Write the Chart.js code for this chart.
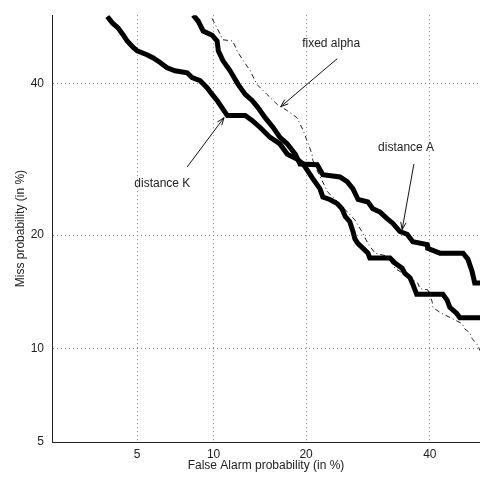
<!DOCTYPE html>
<html>
<head>
<meta charset="utf-8">
<script src="https://cdn.jsdelivr.net/npm/chart.js@4/dist/chart.umd.min.js"></script>
<style>
  html, body { margin: 0; padding: 0; background: #fff; }
  #wrap { width: 480px; height: 477px; position: relative; }
</style>
</head>
<body>
<div id="wrap"><canvas id="det"></canvas></div>
<script>
// tick values (in %) on the normal-deviate axes
const xTicks = [5, 10, 20, 40];
const yTicks = [5, 10, 20, 40];

// distance K : false alarm (%) / miss (%)
const kFa = [3.7, 3.9, 4.14, 4.36, 4.53, 4.81, 5.0, 5.5, 5.84, 6.23, 6.65, 7.15, 7.97, 8.33, 8.92, 9.47, 9.88, 10.3, 10.7, 11.2,
  12.9, 13.6, 14.45, 15.56, 16.7, 17.6, 18.8, 19.6, 20.3, 20.9, 21.9, 22.3, 23.3, 24.4, 25.1, 25.6, 26.3, 26.8, 27.1, 27.6,
  28.4, 29.2, 29.5, 32.9, 33.75, 35.0, 35.5, 36.4, 36.9, 37.6, 42.4, 43.2, 43.7, 45.0, 45.6, 49.4];
const kMiss = [50.3, 49.3, 48.5, 47.4, 46.5, 45.5, 45.0, 44.4, 43.9, 43.2, 42.4, 41.95, 41.65, 40.9, 40.45, 39.4, 38.4, 37.5, 36.5, 35.3,
  35.3, 34.6, 33.6, 32.2, 31.3, 29.9, 29.25, 28.6, 27.55, 26.7, 25.4, 24.4, 24.1, 23.6, 23.0, 22.1, 21.5, 20.4, 19.6, 19.1,
  18.6, 18.1, 17.6, 17.6, 17.1, 16.6, 16.1, 15.7, 15.1, 14.2, 14.2, 13.7, 13.1, 12.6, 12.25, 12.25];

// distance A
const aFa = [8.4, 8.77, 9.16, 9.88, 10.3, 10.4, 10.8, 11.45, 12.2, 12.9, 13.6, 14.2, 15.0, 15.9, 16.7, 17.6, 18.6, 19.2, 21.5, 22.3,
  24.8, 25.9, 26.8, 27.6, 29.2, 30.0, 31.2, 32.4, 33.4, 34.6, 35.9, 36.9, 39.5, 39.6, 41.85, 46.2, 47.1, 47.9, 48.4, 49.4];
const aMiss = [50.5, 49.6, 48.05, 47.4, 46.5, 45.0, 43.5, 41.95, 39.9, 38.4, 37.5, 36.5, 35.0, 33.6, 32.2, 31.3, 29.9, 28.6, 28.5, 27.2,
  26.9, 26.3, 25.4, 24.1, 23.8, 23.0, 22.6, 21.85, 21.3, 20.4, 20.1, 19.3, 19.0, 18.6, 18.1, 18.1, 17.5, 16.3, 15.2, 15.2];

// fixed alpha
const alFa = [9.88, 10.3, 10.8, 11.7, 12.1, 12.7, 13.4, 14.1, 15.2, 16.4, 17.6, 18.8, 19.6, 20.1, 20.8, 20.9, 21.6, 23.0, 24.5, 27.1,
  28.2, 29.2, 30.35, 32.4, 33.75, 37.8, 38.2, 39.6, 40.4, 40.6, 42.2, 44.1, 46.0, 46.5, 47.5, 47.9, 49.0, 49.4];
const alMiss = [50.0, 48.5, 46.7, 46.5, 45.0, 43.5, 41.95, 39.9, 38.4, 36.9, 36.0, 35.0, 33.2, 31.8, 29.9, 29.1, 27.55, 25.0, 23.8, 21.7,
  20.4, 19.1, 18.1, 17.8, 16.6, 15.2, 14.7, 14.6, 13.6, 13.05, 12.6, 12.2, 11.8, 11.4, 11.1, 10.7, 10.2, 9.85];

// annotations: label position, arrow tail, arrow tip (all in %)
const labels = [
  { text: 'fixed alpha', at: [23.5, 46.1], from: [24.4, 43.8], to: [16.8, 36.6] },
  { text: 'distance A', at: [35.7, 30.85], from: [37.1, 28.6], to: [35.0, 20.6] },
  { text: 'distance K', at: [6.36, 26.0], from: [7.97, 28.2], to: [10.9, 35.0] }
];

// inverse normal cdf (Acklam)
function probit(p) {
  const a = [-39.69683028665376, 220.9460984245205, -275.9285104469687, 138.357751867269, -30.66479806614716, 2.506628277459239];
  const b = [-54.47609879822406, 161.5858368580409, -155.6989798598866, 66.80131188771972, -13.28068155288572];
  const c = [-0.007784894002430293, -0.3223964580411365, -2.400758277161838, -2.549732539343734, 4.374664141464968, 2.938163982698783];
  const d = [0.007784695709041462, 0.3224671290700398, 2.445134137142996, 3.754408661907416];
  const pl = 0.02425;
  let q, r;
  if (p < pl) {
    q = Math.sqrt(-2 * Math.log(p));
    return (((((c[0]*q+c[1])*q+c[2])*q+c[3])*q+c[4])*q+c[5]) / ((((d[0]*q+d[1])*q+d[2])*q+d[3])*q+1);
  }
  if (p > 1 - pl) {
    q = Math.sqrt(-2 * Math.log(1 - p));
    return -(((((c[0]*q+c[1])*q+c[2])*q+c[3])*q+c[4])*q+c[5]) / ((((d[0]*q+d[1])*q+d[2])*q+d[3])*q+1);
  }
  q = p - 0.5; r = q * q;
  return (((((a[0]*r+a[1])*r+a[2])*r+a[3])*r+a[4])*r+a[5])*q / (((((b[0]*r+b[1])*r+b[2])*r+b[3])*r+b[4])*r+1);
}
function ncdf(z) {
  // bisection is plenty for pixel -> value
  let lo = 1e-6, hi = 1 - 1e-6;
  for (let i = 0; i < 60; i++) {
    const m = (lo + hi) / 2;
    if (probit(m) < z) lo = m; else hi = m;
  }
  return (lo + hi) / 2;
}

// normal deviate scale, values in percent
class ProbitScale extends Chart.LinearScale {
  buildTicks() { return []; }
  getPixelForValue(value) {
    const lo = probit(this.min / 100), hi = probit(this.max / 100);
    return this.getPixelForDecimal((probit(value / 100) - lo) / (hi - lo));
  }
  getValueForPixel(pixel) {
    const lo = probit(this.min / 100), hi = probit(this.max / 100);
    return ncdf(lo + this.getDecimalForPixel(pixel) * (hi - lo)) * 100;
  }
}
ProbitScale.id = 'probit';
ProbitScale.defaults = Chart.LinearScale.defaults;
Chart.register(ProbitScale);

function pts(xs, ys) {
  return xs.map((x, i) => ({ x: x, y: ys[i] }));
}

const annotate = {
  id: 'annotate',
  afterDatasetsDraw(chart) {
    const ctx = chart.ctx;
    const xs = chart.scales.x, ys = chart.scales.y;
    ctx.save();
    ctx.fillStyle = '#222';
    ctx.strokeStyle = '#111';
    ctx.lineWidth = 1;
    ctx.font = '12px "Liberation Sans", Arial, sans-serif';
    ctx.textAlign = 'center';
    ctx.textBaseline = 'middle';
    labels.forEach(l => {
      ctx.fillText(l.text, xs.getPixelForValue(l.at[0]), ys.getPixelForValue(l.at[1]));
      const x0 = xs.getPixelForValue(l.from[0]), y0 = ys.getPixelForValue(l.from[1]);
      const x1 = xs.getPixelForValue(l.to[0]), y1 = ys.getPixelForValue(l.to[1]);
      ctx.beginPath();
      ctx.moveTo(x0, y0);
      ctx.lineTo(x1, y1);
      const ang = Math.atan2(y1 - y0, x1 - x0);
      const len = 8, spread = 0.35;
      ctx.moveTo(x1 - len * Math.cos(ang - spread), y1 - len * Math.sin(ang - spread));
      ctx.lineTo(x1, y1);
      ctx.lineTo(x1 - len * Math.cos(ang + spread), y1 - len * Math.sin(ang + spread));
      ctx.stroke();
    });
    ctx.restore();
  }
};

Chart.defaults.font.family = '"Liberation Sans", Arial, sans-serif';
Chart.defaults.font.size = 12;
Chart.defaults.color = '#222';

new Chart(document.getElementById('det'), {
  type: 'line',
  data: {
    datasets: [
      { label: 'distance K', data: pts(kFa, kMiss), borderColor: '#000', borderWidth: 5, pointRadius: 0, tension: 0 },
      { label: 'distance A', data: pts(aFa, aMiss), borderColor: '#000', borderWidth: 5, pointRadius: 0, tension: 0 },
      { label: 'fixed alpha', data: pts(alFa, alMiss), borderColor: '#222', borderWidth: 1, borderDash: [5, 3, 1, 3],
        pointRadius: 0, tension: 0 }
    ]
  },
  options: {
    responsive: true,
    maintainAspectRatio: false,
    animation: false,
    layout: { padding: { top: 12, right: 0, left: 0, bottom: 0 } },
    plugins: { legend: { display: false }, tooltip: { enabled: false } },
    scales: {
      x: {
        type: 'probit',
        min: 2.02,
        max: 49.4,
        afterBuildTicks: s => { s.ticks = xTicks.map(v => ({ value: v })); },
        afterFit: s => { s.height = 35; },
        grid: { color: '#888', drawTicks: false },
        border: { display: true, color: '#222', width: 1, dash: [1, 3] },
        ticks: { padding: 5, maxRotation: 0, autoSkip: false },
        title: { display: true, text: 'False Alarm probability (in %)', padding: { top: 4, bottom: 4 } }
      },
      y: {
        type: 'probit',
        min: 5,
        max: 50.5,
        afterBuildTicks: s => { s.ticks = yTicks.map(v => ({ value: v })); },
        afterFit: s => { s.width = 52; },
        grid: { color: '#888', drawTicks: false },
        border: { display: true, color: '#222', width: 1, dash: [1, 3] },
        ticks: { padding: 8, autoSkip: false },
        title: { display: true, text: 'Miss probability (in %)', padding: { top: 13, bottom: 13 } }
      }
    }
  },
  plugins: [annotate]
});
</script>
</body>
</html>
